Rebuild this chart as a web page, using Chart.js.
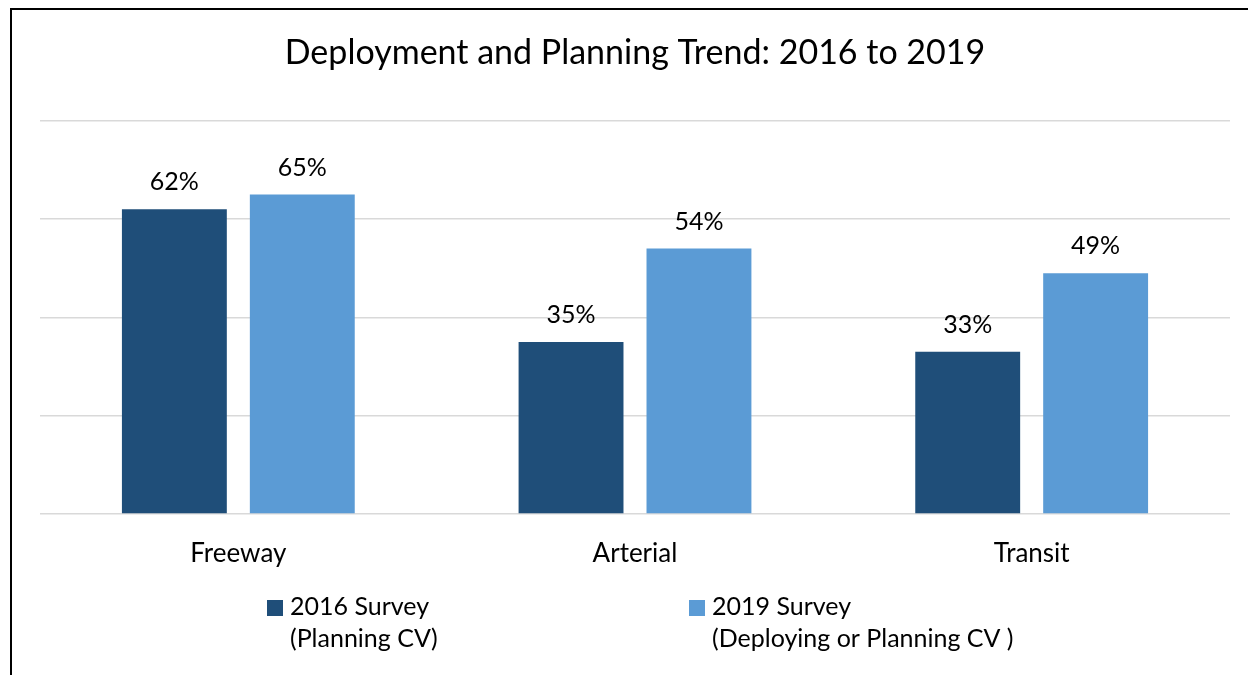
<!DOCTYPE html>
<html>
<head>
<meta charset="utf-8">
<script src="https://cdn.jsdelivr.net/npm/chart.js@4.4.1/dist/chart.umd.min.js"></script>
<style>
  html, body { margin: 0; padding: 0; background: #fff; }
  #wrap { width: 1248px; height: 675px; position: relative; }
</style>
</head>
<body>
<div id="wrap"><canvas id="c" width="1248" height="675"></canvas></div>
<script>
const categories = ['Freeway', 'Arterial', 'Transit'];
const survey2016 = [62, 35, 33];
const survey2019 = [65, 54, 49];
const seriesLine1 = ['2016 Survey', '2019 Survey'];
const seriesLine2 = ['(Planning CV)', '(Deploying or Planning CV )'];
const yTicks = [0, 20, 40, 60, 80];
const titleText = 'Deployment and Planning Trend: 2016 to 2019';

const FONT = 'Lato, "Open Sans", sans-serif';
const DARK = '#1F4E79';
const LIGHT = '#5B9BD5';

const frame = {
  id: 'frame',
  beforeDraw(chart) {
    const ctx = chart.ctx;
    ctx.save();
    ctx.fillStyle = '#fff';
    ctx.fillRect(0, 0, chart.width, chart.height);
    ctx.strokeStyle = '#000';
    ctx.lineWidth = 2;
    ctx.beginPath();
    ctx.moveTo(11, chart.height + 2);
    ctx.lineTo(11, 9);
    ctx.lineTo(chart.width + 2, 9);
    ctx.stroke();
    ctx.restore();
  }
};

const valueLabels = {
  id: 'valueLabels',
  afterDatasetsDraw(chart) {
    const ctx = chart.ctx;
    ctx.save();
    ctx.font = '25px ' + FONT;
    ctx.fillStyle = '#000';
    ctx.textAlign = 'center';
    ctx.textBaseline = 'alphabetic';
    chart.data.datasets.forEach((ds, i) => {
      const meta = chart.getDatasetMeta(i);
      meta.data.forEach((bar, j) => {
        ctx.fillText(ds.data[j] + '%', bar.x, bar.y - 19);
      });
    });
    ctx.restore();
  }
};

const customLegend = {
  id: 'customLegend',
  afterDraw(chart) {
    const ctx = chart.ctx;
    const starts = [267, 689];
    ctx.save();
    ctx.font = '25px ' + FONT;
    ctx.textBaseline = 'alphabetic';
    ctx.textAlign = 'left';
    chart.data.datasets.forEach((ds, i) => {
      const x = starts[i];
      ctx.fillStyle = ds.backgroundColor;
      ctx.fillRect(x, 600, 16, 16);
      ctx.fillStyle = '#000';
      ctx.fillText(seriesLine1[i], x + 23, 615);
      ctx.fillText(seriesLine2[i], x + 23, 647);
    });
    ctx.restore();
  }
};

new Chart(document.getElementById('c'), {
  type: 'bar',
  data: {
    labels: categories,
    datasets: [
      { label: seriesLine1[0] + ' ' + seriesLine2[0], data: survey2016, backgroundColor: DARK,
        categoryPercentage: 0.645, barPercentage: 0.82 },
      { label: seriesLine1[1] + ' ' + seriesLine2[1], data: survey2019, backgroundColor: LIGHT,
        categoryPercentage: 0.645, barPercentage: 0.82 }
    ]
  },
  options: {
    responsive: false,
    animation: false,
    layout: { padding: { left: 40, right: 18, top: 0, bottom: 101 } },
    plugins: {
      legend: { display: false },
      tooltip: { enabled: false },
      title: {
        display: true,
        text: titleText,
        color: '#000',
        font: { family: FONT, size: 34, weight: 'normal' },
        padding: { top: 33, bottom: 47 }
      }
    },
    scales: {
      x: {
        grid: { display: false },
        border: { display: false },
        ticks: { color: '#000', font: { family: FONT, size: 26 }, padding: 16 },
        afterFit(s) { s.height = 60; }
      },
      y: {
        min: 0, max: 80,
        afterBuildTicks(s) { s.ticks = yTicks.map(v => ({ value: v })); },
        ticks: { display: false },
        grid: { color: '#D9D9D9', lineWidth: 1.5, drawTicks: false },
        border: { display: false },
        afterFit(s) { s.width = 0; }
      }
    }
  },
  plugins: [frame, valueLabels, customLegend]
});
</script>
</body>
</html>
